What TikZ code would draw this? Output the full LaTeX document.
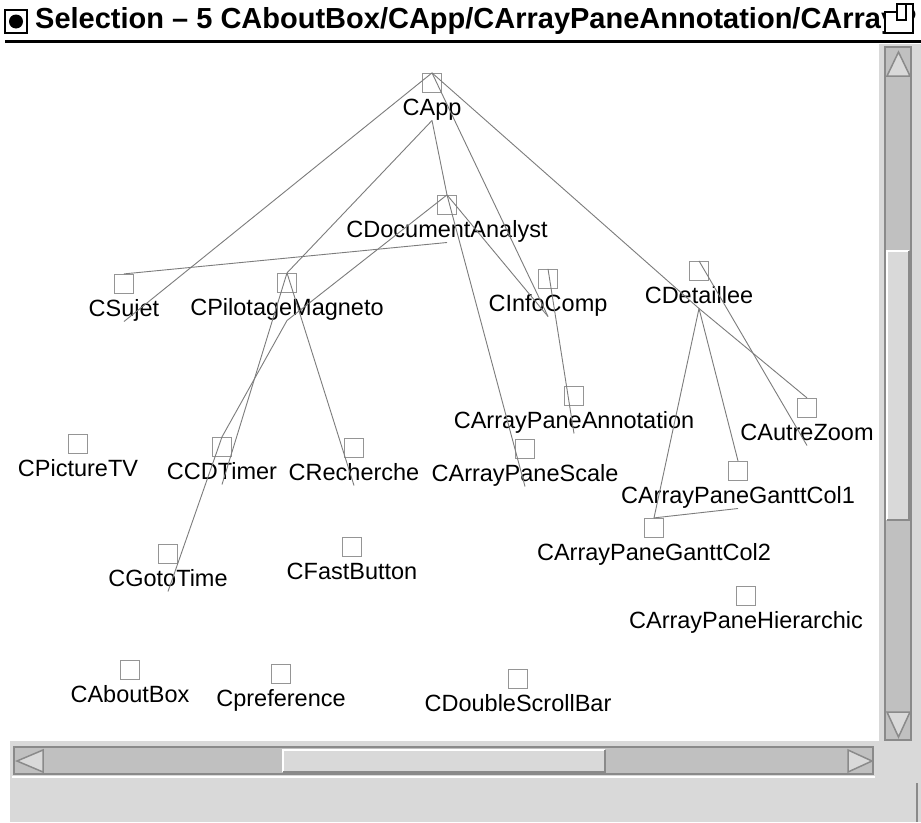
\documentclass[tikz,border=0pt]{standalone}
\usepackage{fontspec}
\setmainfont{Liberation Sans}
\usetikzlibrary{positioning}
\definecolor{boxgray}{HTML}{959595}
\definecolor{linegray}{HTML}{7C7C7C}
\definecolor{trough}{HTML}{C0C0C0}
\definecolor{panel}{HTML}{D9D9D9}
\definecolor{sbdark}{HTML}{8A8A8A}
\tikzset {
  % small square of a class
  class box/.style = {
    draw = boxgray,
    line width = 1.2pt,
    minimum size = 19pt,
    inner sep = 0
  },
  % name under the square
  class name/.style = {
    inner sep = 0,
    text height = 17pt,
    text depth = 5pt,
    font = \fontsize{23.5}{28}\selectfont
  },
  node distance = 5pt
}
\tikzset {
  % link between two classes
  dep/.style = {
    draw = linegray,
    line width = 0.9pt
  },
  sunken/.style = {
    fill = trough,
    draw = sbdark,
    line width = 2pt
  },
  raised/.style = {
    fill = panel,
    draw = sbdark,
    line width = 1.5pt
  }
}

\begin{document}
\begin{tikzpicture}[x=1pt, y=-1pt]
  \useasboundingbox (0,0) rectangle (921,822);
  \fill[white] (0,0) rectangle (921,822);

  % window frame
  \fill[panel] (10,44) rectangle (921,822);
  \fill[white] (0,44) rectangle (879,741);
  \draw[black, line width = 3pt] (5,41.5) -- (921,41.5);
  \begin{scope}
    \clip (0,0) rectangle (921,40);
    \node[anchor = base west, inner sep = 0,
      font = \bfseries\fontsize{29}{34}\selectfont] (title) at (35,28)
      {Selection – 5 CAboutBox/CApp/CArrayPaneAnnotation/CArrayP};
  \end{scope}
  \draw[black, line width = 1.3pt] (5,10) rectangle (27,33);
  \fill[black] (16,21.5) circle (7);
  \filldraw[fill = white, draw = black, line width = 1.3pt]
    (885,12) -- (897,12) -- (897,4) -- (913,4) -- (913,33) -- (885,33) -- cycle;
  \draw[black, line width = 1.3pt] (897,12) -- (897,20) -- (906,20) -- (906,4);

  % vertical scroll bar
  \draw[sunken] (885,47) rectangle (911,740);
  \draw[raised] (887,76) -- (910,76) -- (898.5,52) -- cycle;
  \draw[raised] (887,712) -- (910,712) -- (898.5,737) -- cycle;
  \fill[panel] (887,251) rectangle (909,520);
  \draw[white, line width = 1.5pt] (887,520) -- (887,251) -- (909,251);
  \draw[sbdark, line width = 2pt] (887,520) -- (909,520) -- (909,251);

  % horizontal scroll bar
  \draw[sunken] (14,747) rectangle (873,774);
  \draw[raised] (43,750) -- (43,772) -- (17,761) -- cycle;
  \draw[raised] (848,750) -- (848,772) -- (872,761) -- cycle;
  \fill[panel] (283,750) rectangle (605,772);
  \draw[white, line width = 1.5pt] (283,772) -- (283,750) -- (605,750);
  \draw[sbdark, line width = 2pt] (283,772) -- (605,772) -- (605,750);
  \draw[white, line width = 1.5pt] (12,777) -- (875,777);
  \draw[sbdark, line width = 1.5pt] (917,783) -- (917,822);

  % classes
  \node[class box] (app) at (432,83) {};
  \node[class name] (app-name) [below=of app] {CApp};
  \node[class box] (docu) at (447,205) {};
  \node[class name] (docu-name) [below=of docu] {CDocumentAnalyst};
  \node[class box] (sujet) at (124,284) {};
  \node[class name] (sujet-name) [below=of sujet] {CSujet};
  \node[class box] (pilot) at (287,283) {};
  \node[class name] (pilot-name) [below=of pilot] {CPilotageMagneto};
  \node[class box] (info) at (548,279) {};
  \node[class name] (info-name) [below=of info] {CInfoComp};
  \node[class box] (detail) at (699,271) {};
  \node[class name] (detail-name) [below=of detail] {CDetaillee};
  \node[class box] (annot) at (574,396) {};
  \node[class name] (annot-name) [below=of annot] {CArrayPaneAnnotation};
  \node[class box] (autre) at (807,408) {};
  \node[class name] (autre-name) [below=of autre] {CAutreZoom};
  \node[class box] (scale) at (525,449) {};
  \node[class name] (scale-name) [below=of scale] {CArrayPaneScale};
  \node[class box] (gantt1) at (738,471) {};
  \node[class name] (gantt1-name) [below=of gantt1] {CArrayPaneGanttCol1};
  \node[class box] (gantt2) at (654,528) {};
  \node[class name] (gantt2-name) [below=of gantt2] {CArrayPaneGanttCol2};
  \node[class box] (hier) at (746,596) {};
  \node[class name] (hier-name) [below=of hier] {CArrayPaneHierarchic};
  \node[class box] (tv) at (78,444) {};
  \node[class name] (tv-name) [below=of tv] {CPictureTV};
  \node[class box] (timer) at (222,447) {};
  \node[class name] (timer-name) [below=of timer] {CCDTimer};
  \node[class box] (recher) at (354,448) {};
  \node[class name] (recher-name) [below=of recher] {CRecherche};
  \node[class box] (goto) at (168,554) {};
  \node[class name] (goto-name) [below=of goto] {CGotoTime};
  \node[class box] (fast) at (352,547) {};
  \node[class name] (fast-name) [below=of fast] {CFastButton};
  \node[class box] (about) at (130,670) {};
  \node[class name] (about-name) [below=of about] {CAboutBox};
  \node[class box] (pref) at (281,674) {};
  \node[class name] (pref-name) [below=of pref] {Cpreference};
  \node[class box] (dscroll) at (518,679) {};
  \node[class name] (dscroll-name) [below=of dscroll] {CDoubleScrollBar};

  % links
  \draw[dep] (app.north) -- (sujet-name.south);
  \draw[dep] (app.north) -- (info-name.south);
  \draw[dep] (app.north) -- (detail-name.south);
  \draw[dep] (app-name.south) -- (pilot.north);
  \draw[dep] (app-name.south) -- (docu.north);
  \draw[dep] (docu.north) -- (scale-name.south);
  \draw[dep] (docu.north) -- (pilot-name.south);
  \draw[dep] (docu.north) -- (info-name.south);
  \draw[dep] (docu-name.south) -- (sujet.north);
  \draw[dep] (info.north) -- (annot-name.south);
  \draw[dep] (pilot.north) -- (timer-name.south);
  \draw[dep] (pilot.north) -- (recher-name.south);
  \draw[dep] (pilot-name.south) -- (timer.north);
  \draw[dep] (timer.north) -- (goto-name.south);
  \draw[dep] (detail.north) -- (autre-name.south);
  \draw[dep] (detail-name.south) -- (autre.north);
  \draw[dep] (detail-name.south) -- (gantt1.north);
  \draw[dep] (detail-name.south) -- (gantt2.north);
  \draw[dep] (gantt1-name.south) -- (gantt2.north);
\end{tikzpicture}
\end{document}
